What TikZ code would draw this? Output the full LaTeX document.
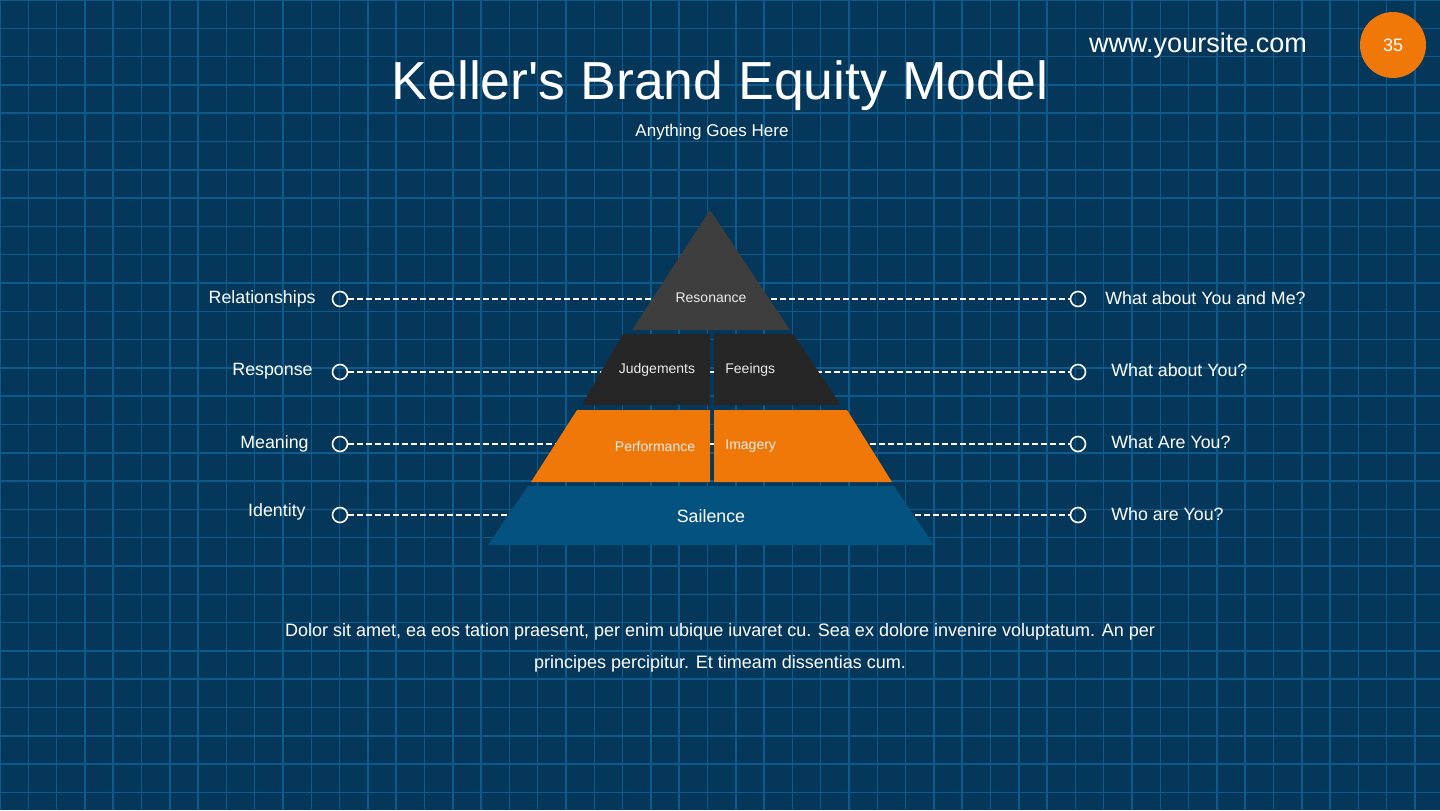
\documentclass[tikz,border=0pt]{standalone}
\usepackage{fontspec}
\setmainfont{Liberation Sans}
\definecolor{bg}{HTML}{04375A}
\definecolor{gridc}{HTML}{0F5A8C}
\definecolor{topg}{HTML}{3E3E3E}
\definecolor{darkg}{HTML}{262626}
\definecolor{orng}{HTML}{F07809}
\definecolor{blu}{HTML}{04527F}
\tikzset{
  lbl/.style={text=white,font=\fontsize{8.9}{10}\selectfont,inner sep=0pt},
  plbl/.style={text=white!85!gray,font=\fontsize{7}{8}\selectfont,inner sep=0pt},
  dot/.style={circle,draw=white,line width=0.8pt,minimum size=7.5pt,inner sep=0pt},
  conn/.style={white,dash pattern=on 3pt off 1.5pt,line width=0.6pt}
}
\begin{document}
\begin{tikzpicture}[x=0.5pt,y=-0.5pt]
\fill[bg] (0,0) rectangle (1440,810);
\useasboundingbox (0,0) rectangle (1440,810);
\foreach \i in {0,...,51} \draw[gridc,line width=0.75pt] ({\i*28.3},0) -- ({\i*28.3},810);
\foreach \j in {0,...,29} \draw[gridc,line width=0.75pt] (0,{\j*28.3}) -- (1440,{\j*28.3});
% title
\node[text=white,font=\fontsize{26.8}{30}\selectfont,inner sep=0pt] (title) at (720,86) {Keller\textquotesingle s Brand Equity Model};
\node[text=white,font=\fontsize{8.5}{10}\selectfont,inner sep=0pt] (sub) at (712,132) {Anything Goes Here};
\node[text=white,font=\fontsize{13.5}{15}\selectfont,inner sep=0pt] (web) at (1198,46) {www.yoursite.com};
\node[circle,fill=orng,minimum size=33pt,inner sep=0pt,text=white,font=\fontsize{9}{10}\selectfont] (pg) at (1393,45) {35};
% circles and connectors
\foreach \n/\y in {a/299,b/372,c/444,d/515}{
  \node[dot] (l\n) at (340,\y) {};
  \node[dot] (r\n) at (1078,\y) {};
  \draw[conn] (l\n) -- (r\n);
}
\node[lbl,anchor=east] (t1) at (316,299) {Relationships};
\node[lbl,anchor=east] (t2) at (313,371) {Response};
\node[lbl,anchor=east] (t3) at (309,444) {Meaning};
\node[lbl,anchor=east] (t4) at (306,512) {Identity};
\node[lbl,anchor=west] (u1) at (1105,298) {What about You and Me?};
\node[lbl,anchor=west] (u2) at (1111,370) {What about You?};
\node[lbl,anchor=west] (u3) at (1111,442) {What Are You?};
\node[lbl,anchor=west] (u4) at (1111,514) {Who are You?};
% pyramid
\fill[topg] (710,210) -- (790,330) -- (632,330) -- cycle;
\fill[darkg] (623,334) -- (710,334) -- (710,405) -- (582,405) -- cycle;
\fill[darkg] (714,334) -- (793,334) -- (841,405) -- (714,405) -- cycle;
\fill[orng] (577,410) -- (710,410) -- (710,482) -- (531,482) -- cycle;
\fill[orng] (714,410) -- (847,410) -- (892,482) -- (714,482) -- cycle;
\fill[blu] (528,486) -- (894,486) -- (934,545) -- (488,545) -- cycle;
\node[plbl] (p1) at (711,298) {Resonance};
\node[plbl] (p2) at (657,370) {Judgements};
\node[plbl,anchor=west] (p3) at (725,370) {Feeings};
\node[plbl] (p4) at (655,446) {Performance};
\node[plbl,anchor=west] (p5) at (725,446) {Imagery};
\node[lbl] (p6) at (711,516) {Sailence};
% body
\node[text=white,font=\fontsize{9}{16}\selectfont,align=center,inner sep=0pt] (body) at (720,648) {Dolor sit amet, ea eos tation praesent, per enim ubique iuvaret cu. Sea ex dolore invenire voluptatum. An per\\principes percipitur. Et timeam dissentias cum.};
\end{tikzpicture}
\end{document}
